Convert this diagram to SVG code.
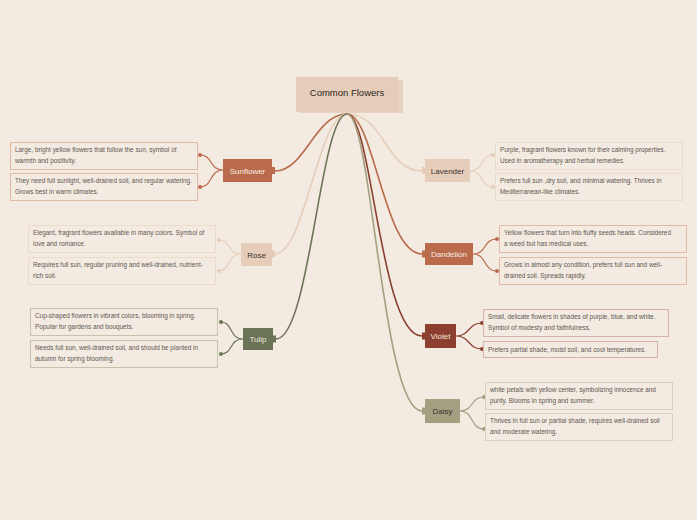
<svg xmlns="http://www.w3.org/2000/svg" width="697" height="520" viewBox="0 0 697 520">
<style>
.bg{fill:#f3ebe2}
.dt{font-family:"Liberation Sans","Noto Sans",sans-serif;font-size:6.4px;fill:#5e5650}
.nt{font-family:"Liberation Sans","Noto Sans",sans-serif;font-size:8px;text-anchor:middle}
.rt{font-family:"Liberation Sans","Noto Sans",sans-serif;font-size:9.5px;fill:#2b2622;text-anchor:middle}
.db{fill:none;stroke-width:1}
.c{fill:none;stroke-width:1.6}
.cs{fill:none;stroke-width:1.2}
.terra{stroke:#b96b4b}
.terraf{fill:#b96b4b}
.sand{stroke:#e6cdb9}
.sandf{fill:#e6cdb9}
.olive{stroke:#6b7457}
.olivef{fill:#6b7457}
.wine{stroke:#8c3f2f}
.winef{fill:#8c3f2f}
.khaki{stroke:#a3a081}
.khakif{fill:#a3a081}
.bterra{stroke:#e2b9a5}
.bsand{stroke:#ecdccc}
.bolive{stroke:#c7c2b0}
.bwine{stroke:#d8b1a6}
.bkhaki{stroke:#d7d1bc}
</style>
<rect class="bg" x="0" y="0" width="697" height="520"/>
<g id="connectors">
<path class="c terra" d="M347,114 C315,114 305,171 275,171"/>
<path class="c sand" d="M347,114 C318,114 305,254 275,254"/>
<path class="c olive" d="M347,114 C320,114 310,339 276,339"/>
<path class="c sand" d="M347,114 C385,114 385,171 422,171"/>
<path class="c terra" d="M347,114 C374,114 384,254 422,254"/>
<path class="c wine" d="M347,114 C372,114 380,336 422,336"/>
<path class="c khaki" d="M347,114 C372,114 382,411 422,411"/>
<path class="cs terra" d="M223,170 C209,170 213,155 200,155 M223,170 C209,170 213,187 200,187"/>
<path class="cs sand" d="M241,254 C227,254 231,240 219,240 M241,254 C227,254 231,271 219,271"/>
<path class="cs olive" d="M243,339 C229,339 233,322 221,322 M243,339 C229,339 233,354 221,354"/>
<path class="cs sand" d="M470,171 C484,171 480,155 493,155 M470,171 C484,171 480,187 493,187"/>
<path class="cs terra" d="M473,254 C487,254 483,239 497,239 M473,254 C487,254 483,271 497,271"/>
<path class="cs wine" d="M456,336 C470,336 468,323 482,323 M456,336 C470,336 468,349 482,349"/>
<path class="cs khaki" d="M460,411 C474,411 470,397 484,397 M460,411 C474,411 470,429 484,429"/>
<circle class="terraf" cx="200" cy="155" r="2"/><circle class="terraf" cx="200" cy="187" r="2"/>
<circle class="sandf" cx="219" cy="240" r="2"/><circle class="sandf" cx="219" cy="271" r="2"/>
<circle class="olivef" cx="221" cy="322" r="2"/><circle class="olivef" cx="221" cy="354" r="2"/>
<circle class="sandf" cx="493" cy="155" r="2"/><circle class="sandf" cx="493" cy="187" r="2"/>
<circle class="terraf" cx="497" cy="239" r="2"/><circle class="terraf" cx="497" cy="271" r="2"/>
<circle class="winef" cx="482" cy="323" r="2"/><circle class="winef" cx="482" cy="349" r="2"/>
<circle class="khakif" cx="484" cy="397" r="2"/><circle class="khakif" cx="484" cy="429" r="2"/>
</g>
<g id="root">
<rect x="300" y="80" width="103" height="33" fill="#e8d3c2"/>
<rect x="296" y="77" width="102" height="35" fill="#e6cdb9"/>
<text class="rt" x="347" y="96">Common Flowers</text>
</g>
<g id="sunflower">
<rect class="terraf" x="223" y="159" width="49" height="23"/>
<rect class="terraf" x="272" y="167" width="3" height="7"/>
<text class="nt" x="247.5" y="173.5" fill="#f6ece4">Sunflower</text>
</g>
<g id="rose">
<rect class="sandf" x="241" y="243" width="31" height="23"/>
<rect class="sandf" x="272" y="250.5" width="3" height="7"/>
<text class="nt" x="256.5" y="257.5" fill="#3a322c">Rose</text>
</g>
<g id="tulip">
<rect class="olivef" x="243" y="328" width="30" height="22"/>
<rect class="olivef" x="273" y="335.5" width="3" height="7"/>
<text class="nt" x="258" y="342" fill="#eee8dc">Tulip</text>
</g>
<g id="lavender">
<rect class="sandf" x="425" y="159" width="45" height="23"/>
<rect class="sandf" x="422" y="167" width="3" height="7"/>
<text class="nt" x="447.5" y="173.5" fill="#3a322c">Lavender</text>
</g>
<g id="dandelion">
<rect class="terraf" x="425" y="243" width="48" height="22"/>
<rect class="terraf" x="422" y="250.5" width="3" height="7"/>
<text class="nt" x="449" y="257" fill="#f6ece4">Dandelion</text>
</g>
<g id="violet">
<rect class="winef" x="425" y="324" width="31" height="24"/>
<rect class="winef" x="422" y="332.5" width="3" height="7"/>
<text class="nt" x="440.5" y="339" fill="#f3e6df">Violet</text>
</g>
<g id="daisy">
<rect class="khakif" x="425" y="399" width="35" height="24"/>
<rect class="khakif" x="422" y="407.5" width="3" height="7"/>
<text class="nt" x="442.5" y="414" fill="#3a342a">Daisy</text>
</g>
<g id="sunflower-1"><rect class="db bterra" x="10.5" y="142.5" width="187" height="27"/>
<text class="dt" x="15" y="152">Large, bright yellow flowers that follow the sun, symbol of</text>
<text class="dt" x="15" y="163">warmth and positivity.</text></g>
<g id="sunflower-2"><rect class="db bterra" x="10.5" y="173.5" width="187" height="27"/>
<text class="dt" x="15" y="183">They need full sunlight, well-drained soil, and regular watering.</text>
<text class="dt" x="15" y="194">Grows best in warm climates.</text></g>
<g id="rose-1"><rect class="db bsand" x="28.5" y="225.5" width="187" height="27"/>
<text class="dt" x="33" y="235">Elegant, fragrant flowers available in many colors. Symbol of</text>
<text class="dt" x="33" y="246">love and romance.</text></g>
<g id="rose-2"><rect class="db bsand" x="28.5" y="257.5" width="187" height="27"/>
<text class="dt" x="33" y="267">Requires full sun, regular pruning and well-drained, nutrient-</text>
<text class="dt" x="33" y="278">rich soil.</text></g>
<g id="tulip-1"><rect class="db bolive" x="30.5" y="308.5" width="187" height="27"/>
<text class="dt" x="35" y="318">Cup-shaped flowers in vibrant colors, blooming in spring.</text>
<text class="dt" x="35" y="329">Popular for gardens and bouquets.</text></g>
<g id="tulip-2"><rect class="db bolive" x="30.5" y="340.5" width="187" height="27"/>
<text class="dt" x="35" y="350">Needs full sun, well-drained soil, and should be planted in</text>
<text class="dt" x="35" y="361">autumn for spring blooming.</text></g>
<g id="lavender-1"><rect class="db bsand" x="495.5" y="142.5" width="187" height="27"/>
<text class="dt" x="500" y="152">Purple, fragrant flowers known for their calming properties.</text>
<text class="dt" x="500" y="163">Used in aromatherapy and herbal remedies.</text></g>
<g id="lavender-2"><rect class="db bsand" x="495.5" y="173.5" width="187" height="27"/>
<text class="dt" x="500" y="183">Prefers full sun ,dry soil, and minimal watering. Thrives in</text>
<text class="dt" x="500" y="194">Mediterranean-like climates.</text></g>
<g id="dandelion-1"><rect class="db bterra" x="499.5" y="225.5" width="187" height="27"/>
<text class="dt" x="504" y="235">Yellow flowers that turn into fluffy seeds heads. Considered</text>
<text class="dt" x="504" y="246">a weed but has medical uses.</text></g>
<g id="dandelion-2"><rect class="db bterra" x="499.5" y="257.5" width="187" height="27"/>
<text class="dt" x="504" y="267">Grows in almost any condition, prefers full sun and well-</text>
<text class="dt" x="504" y="278">drained soil. Spreads rapidly.</text></g>
<g id="violet-1"><rect class="db bwine" x="483.5" y="309.5" width="185" height="27"/>
<text class="dt" x="488" y="319">Small, delicate flowers in shades of purple, blue, and white.</text>
<text class="dt" x="488" y="330">Symbol of modesty and faithfulness.</text></g>
<g id="violet-2"><rect class="db bwine" x="483.5" y="341.5" width="174" height="16"/>
<text class="dt" x="488" y="351.5">Prefers partial shade, moist soil, and cool temperatures.</text></g>
<g id="daisy-1"><rect class="db bkhaki" x="485.5" y="382.5" width="187" height="27"/>
<text class="dt" x="490" y="392">white petals with yellow center, symbolizing innocence and</text>
<text class="dt" x="490" y="403">purity. Blooms in spring and summer.</text></g>
<g id="daisy-2"><rect class="db bkhaki" x="485.5" y="413.5" width="187" height="27"/>
<text class="dt" x="490" y="423">Thrives in full sun or partial shade, requires well-drained soil</text>
<text class="dt" x="490" y="434">and moderate watering.</text></g>
</svg>
